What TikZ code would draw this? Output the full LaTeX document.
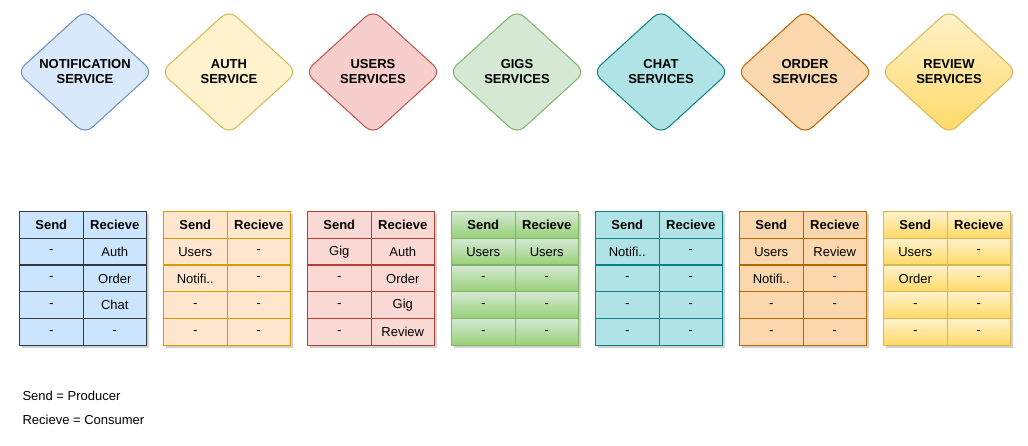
\documentclass[tikz,border=0pt]{standalone}
\usepackage{fontspec}
\setmainfont{Liberation Sans}
\usetikzlibrary{shadings}
\usepackage{xcolor}

\definecolor{notifF}{HTML}{DAE8FC}\definecolor{notifL}{HTML}{6C8EBF}
\definecolor{notifTF}{HTML}{CCE5FF}\definecolor{notifTL}{HTML}{36393D}
\definecolor{authF}{HTML}{FFF2CC}\definecolor{authL}{HTML}{D6B656}
\definecolor{authTF}{HTML}{FFE6CC}\definecolor{authTL}{HTML}{D79B00}
\definecolor{usersF}{HTML}{F8CECC}\definecolor{usersL}{HTML}{B85450}
\definecolor{usersTF}{HTML}{FAD9D5}\definecolor{usersTL}{HTML}{AE4132}
\definecolor{gigsF}{HTML}{D5E8D4}\definecolor{gigsB}{HTML}{97D077}\definecolor{gigsL}{HTML}{82B366}
\definecolor{chatF}{HTML}{B0E3E6}\definecolor{chatL}{HTML}{0E8088}
\definecolor{orderF}{HTML}{FAD7AC}\definecolor{orderL}{HTML}{B46504}
\definecolor{revB}{HTML}{FFD966}

\newcommand\cellfont{\fontsize{13}{15}\selectfont}

\tikzset{
	cellbase/.style={line width=1pt, minimum width=63.5pt, minimum height=26.7pt,
		inner sep=0pt, anchor=north west, font=\cellfont},
	hdr/.style={font=\cellfont\bfseries},
	dia/.style={line width=1pt, rounded corners=10pt},
	dtext/.style={align=center, font=\cellfont\bfseries},
	notifD/.style={fill=notifF, draw=notifL},
	notifT/.style={fill=notifTF, draw=notifTL},
	authD/.style={fill=authF, draw=authL},
	authT/.style={fill=authTF, draw=authTL},
	usersD/.style={fill=usersF, draw=usersL},
	usersT/.style={fill=usersTF, draw=usersTL},
	gigsD/.style={fill=gigsF, draw=gigsL},
	gigsT/.style={top color=gigsF, bottom color=gigsB, draw=gigsL},
	chatD/.style={fill=chatF, draw=chatL},
	chatT/.style={fill=chatF, draw=chatL},
	orderD/.style={fill=orderF, draw=orderL},
	orderT/.style={fill=orderF, draw=orderL},
	revD/.style={top color=authF, bottom color=revB, draw=authL},
	revT/.style={top color=authF, bottom color=revB, draw=authL},
}

% #1 index, #2 style prefix, #3 title, #4 rows
\newcommand\svcblock[4]{%
	\pgfmathsetmacro\cx{85+144*(#1-1)}
	\pgfmathsetmacro\tx{19+144*(#1-1)}
	\draw[dia,#2D] (\cx-34,41) -- (\cx,10) -- (\cx+68,72) -- (\cx,134)
		-- (\cx-68,72) -- cycle;
	\node[dtext] (svc#1) at (\cx,72) {#3};
	\fill[black,opacity=.18] (\tx+3,214) rectangle (\tx+130,348);
	\node[cellbase,hdr,#2T] (h#1s) at (\tx,211) {Send};
	\node[cellbase,hdr,#2T] (h#1r) at (\tx+63.5,211) {Recieve};
	\foreach \r/\s/\c in {#4} {
		\node[cellbase,#2T] (c#1s\r) at (\tx,211+26.8*\r) {\s};
		\node[cellbase,#2T] (c#1r\r) at (\tx+63.5,211+26.8*\r) {\c};
	}
}

\begin{document}
\begin{tikzpicture}[x=1pt,y=-1pt]
	\useasboundingbox (0,0) rectangle (1028,446);
	\svcblock{1}{notif}{NOTIFICATION\\SERVICE}{1/-/Auth,2/-/Order,3/-/Chat,4/-/-}
	\svcblock{2}{auth}{AUTH\\SERVICE}{1/Users/-,2/Notifi../-,3/-/-,4/-/-}
	\svcblock{3}{users}{USERS\\SERVICES}{1/Gig/Auth,2/-/Order,3/-/Gig,4/-/Review}
	\svcblock{4}{gigs}{GIGS\\SERVICES}{1/Users/Users,2/-/-,3/-/-,4/-/-}
	\svcblock{5}{chat}{CHAT\\SERVICES}{1/Notifi../-,2/-/-,3/-/-,4/-/-}
	\svcblock{6}{order}{ORDER\\SERVICES}{1/Users/Review,2/Notifi../-,3/-/-,4/-/-}
	\svcblock{7}{rev}{REVIEW\\SERVICES}{1/Users/-,2/Order/-,3/-/-,4/-/-}

	% legend
	\node[font=\cellfont, anchor=west] (lgs) at (19,396) {Send = Producer};
	\node[font=\cellfont, anchor=west] (lgr) at (19,420) {Recieve = Consumer};
\end{tikzpicture}
\end{document}
